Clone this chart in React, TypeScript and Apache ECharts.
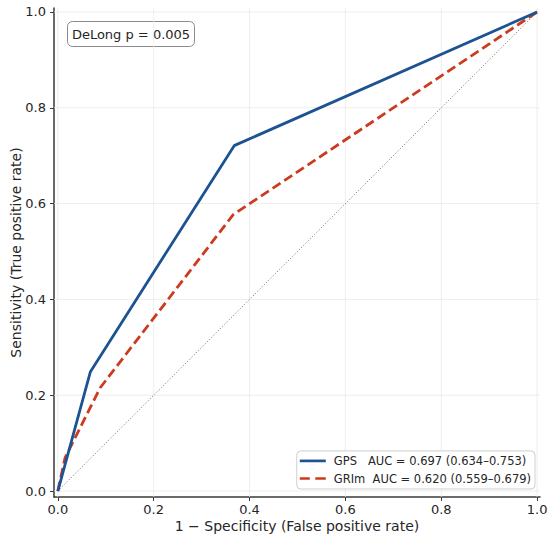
import React, { useEffect, useRef } from "react";
import * as echarts from "echarts";

const TICKS = [0, 0.2, 0.4, 0.6, 0.8, 1.0];
const TICK_LABELS = ["0.0", "0.2", "0.4", "0.6", "0.8", "1.0"];
const GPS_FPR = [0, 0.068, 0.368, 1.0];
const GPS_TPR = [0, 0.249, 0.721, 1.0];
const GRIM_FPR = [0, 0.015, 0.088, 0.366, 1.0];
const GRIM_TPR = [0, 0.069, 0.215, 0.577, 1.0];
const CHANCE = [0, 1];
const GPS_LABEL = "GPS   AUC = 0.697 (0.634\u20130.753)";
const GRIM_LABEL = "GRIm  AUC = 0.620 (0.559\u20130.679)";
const DELONG = "DeLong p = 0.005";

const X_MIN = -0.008;
const X_MAX = 1.006;
const Y_MIN = -0.0125;
const Y_MAX = 1.0083;

const FONT = "DejaVu Sans";

export default function App() {
  const ref = useRef<HTMLDivElement>(null);
  useEffect(() => {
    if (!ref.current) return;
    const chart = echarts.init(ref.current, undefined, { renderer: "svg" });
    const fmt = (v: number) => {
      const i = TICKS.findIndex((t) => Math.abs(t - v) < 1e-6);
      return i >= 0 ? TICK_LABELS[i] : "";
    };
    const axisCommon = {
      type: "value" as const,
      axisLine: { show: true, onZero: false, lineStyle: { color: "#3a3a3a", width: 1.5 } },
      axisTick: { show: true, length: 4, lineStyle: { color: "#3a3a3a", width: 1 }, customValues: TICKS },
      axisLabel: {
        color: "#262626",
        fontFamily: FONT,
        fontSize: 13,
        customValues: TICKS,
        formatter: fmt,
      },
      splitLine: { show: false },
      nameLocation: "middle" as const,
      nameMoveOverlap: false,
      nameTextStyle: { fontFamily: FONT, fontSize: 14, color: "#262626" },
    };
    const gridStyle = { color: "#e9e9e9", width: 0.8 };
    const gridSeries = [
      ...TICKS.map((t) => ({
        type: "line",
        data: [[t, Y_MIN], [t, Y_MAX]],
        symbol: "none",
        silent: true,
        lineStyle: gridStyle,
        z: 0,
      })),
      ...TICKS.map((t) => ({
        type: "line",
        data: [[X_MIN, t], [X_MAX, t]],
        symbol: "none",
        silent: true,
        lineStyle: gridStyle,
        z: 0,
      })),
    ];
    chart.setOption({
      animation: false,
      backgroundColor: "#fff",
      grid: {
        left: 54,
        right: 10,
        top: 8,
        bottom: 42,
        containLabel: false,
        outerBoundsMode: "none",
      },
      xAxis: {
        ...axisCommon,
        min: X_MIN,
        max: X_MAX,
        name: "1 \u2212 Specificity (False positive rate)",
        nameGap: 22,
        axisLabel: { ...axisCommon.axisLabel, margin: 6 },
      },
      yAxis: {
        ...axisCommon,
        min: Y_MIN,
        max: Y_MAX,
        name: "Sensitivity (True positive rate)",
        nameGap: 31,
        axisLabel: { ...axisCommon.axisLabel, margin: 8 },
      },
      legend: {
        show: true,
        right: 15,
        bottom: 50,
        orient: "vertical",
        backgroundColor: "rgba(255,255,255,0.85)",
        borderColor: "#cfcfcf",
        borderWidth: 1,
        borderRadius: 4,
        padding: [3, 4, 3.5, 3],
        itemGap: 3.6,
        itemWidth: 26,
        itemHeight: 14,
        textStyle: { fontFamily: FONT, fontSize: 11.5, lineHeight: 14, color: "#262626", padding: [0, 0, 0, 3] },
        data: [
          { name: GPS_LABEL, icon: "path://M0,0 L26,0 L26,2.7 L0,2.7 Z" },
          { name: GRIM_LABEL, icon: "path://M0,0 L10,0 L10,2.7 L0,2.7 Z M15.5,0 L26,0 L26,2.7 L15.5,2.7 Z" },
        ],
      },
      graphic: [
        {
          type: "group",
          left: 67,
          top: 21,
          children: [
            {
              type: "rect",
              shape: { x: 0, y: 0, width: 127, height: 25, r: 5 },
              style: { fill: "#fff", stroke: "#8a8a8a", lineWidth: 1 },
            },
            {
              type: "text",
              x: 63.5,
              y: 12.5,
              style: {
                text: DELONG,
                fontFamily: FONT,
                fontSize: 13,
                fill: "#262626",
                align: "center",
                verticalAlign: "middle",
              },
            },
          ],
        },
      ],
      series: [
        ...gridSeries,
        {
          type: "line",
          name: "chance",
          data: CHANCE.map((v) => [v, v]),
          symbol: "none",
          silent: true,
          lineStyle: { color: "#777777", width: 1, type: [1.1, 2] },
          z: 1,
        },
        {
          type: "line",
          name: GRIM_LABEL,
          data: GRIM_FPR.map((x, i) => [x, GRIM_TPR[i]]),
          symbol: "none",
          itemStyle: { color: "#cc3b1f" },
          lineStyle: { color: "#cc3b1f", width: 2.8, type: [9.5, 4.5] },
          z: 2,
        },
        {
          type: "line",
          name: GPS_LABEL,
          data: GPS_FPR.map((x, i) => [x, GPS_TPR[i]]),
          symbol: "none",
          itemStyle: { color: "#1d5392" },
          lineStyle: { color: "#1d5392", width: 2.8 },
          z: 3,
        },
      ],
    });
    return () => chart.dispose();
  }, []);
  return (
    <div
      ref={ref}
      style={{ position: "fixed", left: 0, top: 0, width: 550, height: 539 }}
    />
  );
}
